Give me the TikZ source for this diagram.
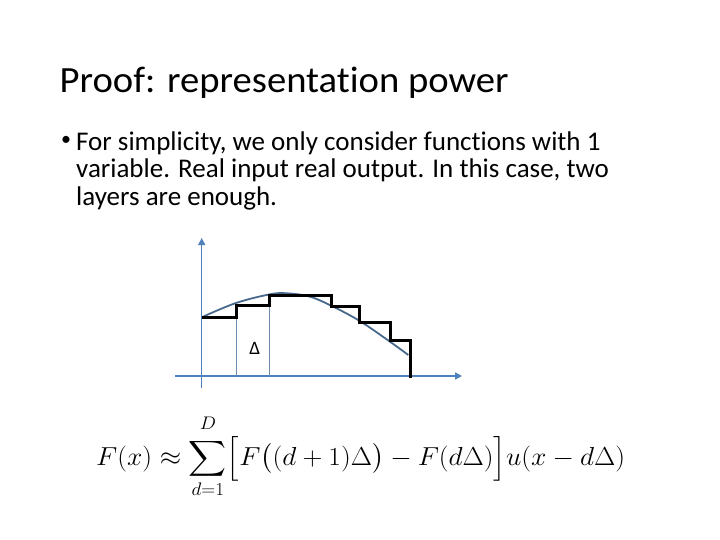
\RequirePackage{fix-cm}
\documentclass[tikz,border=0pt]{standalone}
\usepackage{amsmath}
\usepackage{graphicx}
\usepackage{fontspec}
\setmainfont{Carlito}[Ligatures=NoCommon]
\newfontfamily\titlefont{Carlito}[Ligatures=NoCommon, FakeStretch=1.045]
\newfontfamily\bodyfont{Carlito}[Ligatures=NoCommon]
\usetikzlibrary{arrows.meta}
\definecolor{axisblue}{RGB}{79,129,189}
\definecolor{curveblue}{RGB}{72,104,140}
\definecolor{thinblue}{RGB}{110,140,175}
\tikzset{
  axis/.style={draw=axisblue, line width=1.5pt, -{Triangle[length=7pt,width=7pt]}},
  stairs/.style={draw=black, line width=3pt, line join=miter},
  fcurve/.style={draw=curveblue, line width=1.8pt},
  thin/.style={draw=thinblue, line width=0.8pt},
  txt/.style={anchor=base west, inner sep=0pt, font=\bodyfont\fontsize{27}{30}\selectfont},
}
\begin{document}
\begin{tikzpicture}[x=1pt,y=-1pt]
\useasboundingbox (0,0) rectangle (720,540);
% title
\node[anchor=base west, inner sep=0pt, font=\titlefont\fontsize{37}{44}\selectfont] (title) at (59.5,92.5) {Proof: representation power};
% bullet text
\node[anchor=center, inner sep=0pt, font=\fontsize{20}{24}\selectfont] (bul) at (66,141) {\textbullet};
\node[txt] (l1) at (76,150.5) {For simplicity, we only consider functions with 1};
\node[txt] (l2) at (76,178) {variable. Real input real output. In this case, two};
\node[txt] (l3) at (76,205.5) {layers are enough.};
% axes
\coordinate (o) at (201.7,376);
\draw[axis] (201.7,388) -- (201.7,238);
\draw[axis] (175,376) -- (462,376);
% thin verticals
\draw[thin] (236,376) -- (236,305);
\draw[thin] (269.3,376) -- (269.3,295);
% curve
\draw[fcurve] plot[smooth, tension=0.6] coordinates {(201.7,317.3) (236,303) (270,294.3) (287,293.3) (310,296.7) (331.7,306) (359.3,320.7) (390,341.7) (408.3,355)};
% staircase
\draw[stairs] (201.7,317.3) -- (236,317.3) -- (236,305) -- (269.3,305) -- (269.3,295) -- (331.7,295) -- (331.7,306) -- (359.3,306) -- (359.3,322.7) -- (390,322.7) -- (390,340.7) -- (410,340.7) -- (410,377.5);
% delta label
\node[inner sep=0pt, font=\fontsize{19}{21}\selectfont] (delta) at (254.7,348.3) {Δ};
% formula
\node[anchor=base west, inner sep=0pt, font=\fontsize{26}{30}\selectfont] (formula) at (96,465) {\resizebox{529pt}{\height}{$\displaystyle F(x)\approx\sum_{d=1}^{\raisebox{4pt}{$\scriptstyle D$}}\Bigl[F\bigl((d+1)\Delta\bigr)-F(d\Delta)\Bigr]u(x-d\Delta)$}};
\end{tikzpicture}
\end{document}
